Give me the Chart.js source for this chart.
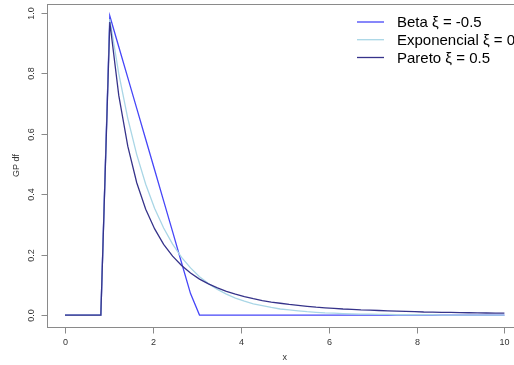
<!DOCTYPE html>
<html>
<head>
<meta charset="utf-8">
<script src="https://cdn.jsdelivr.net/npm/chart.js@4/dist/chart.umd.min.js"></script>
<style>
  html, body { margin: 0; padding: 0; background: #fff; overflow: hidden; }
  #wrap { width: 514px; height: 365px; overflow: hidden; }
</style>
</head>
<body>
<div id="wrap"><canvas id="gpChart" width="524" height="365"></canvas></div>
<script>
// GP density curves (loc = 1, scale = 1)

const xs = [0, 0.204, 0.408, 0.612, 0.816, 1.020, 1.224, 1.429, 1.633, 1.837,
    2.041, 2.245, 2.449, 2.653, 2.857, 3.061, 3.265, 3.469, 3.673, 3.878,
    4.082, 4.286, 4.490, 4.694, 4.898, 5.102, 5.306, 5.510, 5.714, 5.918,
    6.122, 6.327, 6.531, 6.735, 6.939, 7.143, 7.347, 7.551, 7.755, 7.959,
    8.163, 8.367, 8.571, 8.776, 8.980, 9.184, 9.388, 9.592, 9.796, 10];

const betaPdf = [0, 0, 0, 0, 0, 0.990, 0.888, 0.786, 0.684, 0.582,
    0.480, 0.378, 0.276, 0.173, 0.071, 0, 0, 0, 0, 0,
    0, 0, 0, 0, 0, 0, 0, 0, 0, 0,
    0, 0, 0, 0, 0, 0, 0, 0, 0, 0,
    0, 0, 0, 0, 0, 0, 0, 0, 0, 0];

const expoPdf = [0, 0, 0, 0, 0, 0.980, 0.799, 0.651, 0.531, 0.433,
    0.353, 0.288, 0.235, 0.191, 0.156, 0.127, 0.104, 0.085, 0.069, 0.056,
    0.046, 0.037, 0.031, 0.025, 0.020, 0.017, 0.014, 0.011, 0.009, 0.007,
    0.006, 0.005, 0.004, 0.003, 0.003, 0.002, 0.002, 0.001, 0.001, 0.001,
    0.001, 0.001, 0, 0, 0, 0, 0, 0, 0, 0];

const paretoPdf = [0, 0, 0, 0, 0, 0.970, 0.727, 0.559, 0.438, 0.350,
    0.285, 0.234, 0.195, 0.164, 0.139, 0.119, 0.103, 0.090, 0.078, 0.069,
    0.061, 0.054, 0.048, 0.043, 0.039, 0.035, 0.032, 0.029, 0.026, 0.024,
    0.022, 0.020, 0.019, 0.017, 0.016, 0.015, 0.014, 0.013, 0.012, 0.011,
    0.010, 0.0097, 0.0091, 0.0086, 0.0080, 0.0076, 0.0071, 0.0067, 0.0064, 0.0060];

const seriesLabels = ['Beta \u03BE = -0.5', 'Exponencial \u03BE = 0', 'Pareto \u03BE = 0.5'];
const xTicks = [0, 2, 4, 6, 8, 10];
const yTicks = [0, 0.2, 0.4, 0.6, 0.8, 1.0];
const yTickLabels = ['0.0', '0.2', '0.4', '0.6', '0.8', '1.0'];
const xTitle = 'x';
const yTitle = 'GP df';

const FONT = "'Liberation Sans', Arial, sans-serif";

function toPoints(ys) {
    return xs.map((x, i) => ({ x: x, y: ys[i] }));
}

// Draws R-style box, axes, titles and legend
const rStylePlugin = {
    id: 'rStyle',
    afterDraw(chart) {
        const ctx = chart.ctx;
        const area = chart.chartArea;
        const xScale = chart.scales.x;
        const yScale = chart.scales.y;

        ctx.save();
        ctx.strokeStyle = '#8a8a8a';
        ctx.lineWidth = 1;

        // plot box
        ctx.strokeRect(Math.round(area.left) + 0.5, Math.round(area.top) + 0.5,
            Math.round(area.right - area.left), Math.round(area.bottom - area.top));

        // x axis ticks + labels
        ctx.fillStyle = '#333';
        ctx.font = '9px ' + FONT;
        ctx.textAlign = 'center';
        ctx.textBaseline = 'middle';
        const yb = Math.round(area.bottom) + 0.5;
        xTicks.forEach(v => {
            const px = Math.round(xScale.getPixelForValue(v)) + 0.5;
            ctx.beginPath();
            ctx.moveTo(px, yb);
            ctx.lineTo(px, yb + 6);
            ctx.stroke();
            ctx.fillText(String(v), px, yb + 15);
        });

        // y axis ticks + rotated labels
        const xl = Math.round(area.left) + 0.5;
        yTicks.forEach((v, i) => {
            const py = Math.round(yScale.getPixelForValue(v)) + 0.5;
            ctx.beginPath();
            ctx.moveTo(xl, py);
            ctx.lineTo(xl - 6, py);
            ctx.stroke();
            ctx.save();
            ctx.translate(xl - 16, py);
            ctx.rotate(-Math.PI / 2);
            ctx.fillText(yTickLabels[i], 0, 0);
            ctx.restore();
        });

        // axis titles
        ctx.fillText(xTitle, (area.left + area.right) / 2, 358);
        ctx.save();
        ctx.translate(17, (area.top + area.bottom) / 2);
        ctx.rotate(-Math.PI / 2);
        ctx.fillText(yTitle, 0, 0);
        ctx.restore();

        // legend (no frame)
        const rows = [22, 39.7, 57.5];
        ctx.font = '15px ' + FONT;
        ctx.textAlign = 'left';
        ctx.fillStyle = '#000';
        chart.data.datasets.forEach((ds, i) => {
            ctx.strokeStyle = ds.borderColor;
            ctx.lineWidth = 1.3;
            ctx.beginPath();
            ctx.moveTo(357, rows[i]);
            ctx.lineTo(384, rows[i]);
            ctx.stroke();
            ctx.fillText(ds.label, 397, rows[i] + 1);
        });
        ctx.restore();
    }
};

const ctx = document.getElementById('gpChart').getContext('2d');
const gpChart = new Chart(ctx, {
    type: 'line',
    data: {
        datasets: [
            {
                label: seriesLabels[0],
                data: toPoints(betaPdf),
                borderColor: '#4646f8',
                borderWidth: 1.3,
                pointRadius: 0,
                tension: 0,
                order: 3
            },
            {
                label: seriesLabels[1],
                data: toPoints(expoPdf),
                borderColor: '#a9d6e6',
                borderWidth: 1.3,
                pointRadius: 0,
                tension: 0,
                order: 2
            },
            {
                label: seriesLabels[2],
                data: toPoints(paretoPdf),
                borderColor: '#36338a',
                borderWidth: 1.3,
                pointRadius: 0,
                tension: 0,
                order: 1
            }
        ]
    },
    options: {
        responsive: false,
        animation: false,
        devicePixelRatio: 1,
        layout: {
            padding: { left: 47.4, top: 4, right: 2, bottom: 38 }
        },
        plugins: {
            legend: { display: false },
            tooltip: { enabled: false }
        },
        scales: {
            x: {
                type: 'linear',
                min: -0.4,
                max: 10.4,
                display: false
            },
            y: {
                type: 'linear',
                min: -0.0396,
                max: 1.0296,
                display: false
            }
        }
    },
    plugins: [rStylePlugin]
});
</script>
</body>
</html>
